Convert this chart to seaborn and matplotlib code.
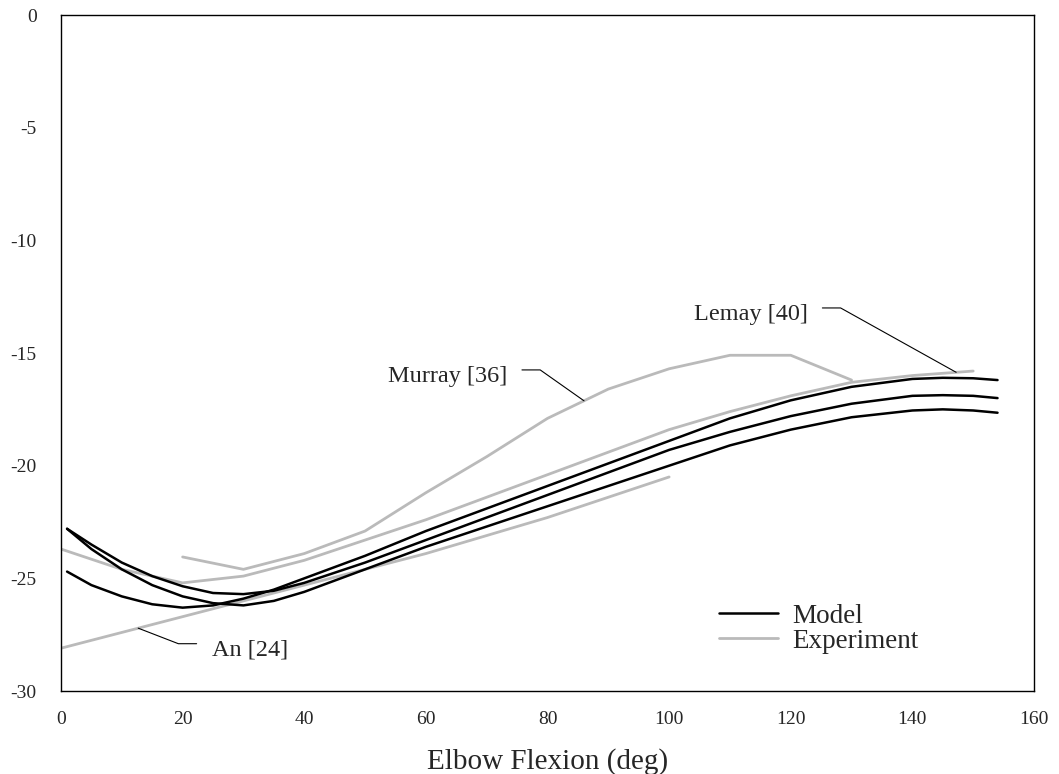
import numpy as np
import matplotlib
matplotlib.use("Agg")
import matplotlib.pyplot as plt
import seaborn as sns
from matplotlib.lines import Line2D

# model curves (three model variants)
model_x = [1, 5, 10, 15, 20, 25, 30, 35, 40, 50, 60, 70, 80, 90, 100,
           110, 120, 130, 140, 145, 150, 154]
model_a = [-24.7, -25.3, -25.8, -26.15, -26.3, -26.2, -25.9, -25.5, -25.0, -24.0,
           -22.9, -21.9, -20.9, -19.9, -18.9, -17.9, -17.1, -16.5, -16.15, -16.1,
           -16.12, -16.2]
model_b = [-22.8, -23.5, -24.3, -24.9, -25.35, -25.65, -25.7, -25.55, -25.2, -24.3,
           -23.3, -22.3, -21.3, -20.3, -19.3, -18.5, -17.8, -17.25, -16.9, -16.87,
           -16.9, -17.0]
model_c = [-22.8, -23.7, -24.6, -25.3, -25.8, -26.1, -26.2, -26.0, -25.6, -24.6,
           -23.6, -22.7, -21.8, -20.9, -20.0, -19.1, -18.4, -17.85, -17.55, -17.5,
           -17.55, -17.65]

# experimental curves
an_x = [0, 10, 20, 30, 40, 50, 60, 70, 80, 90, 100]
an_y = [-28.1, -27.4, -26.7, -26.0, -25.3, -24.6, -23.9, -23.1, -22.3, -21.4, -20.5]

murray_x = [20, 30, 40, 50, 60, 70, 80, 90, 100, 110, 120, 130]
murray_y = [-24.05, -24.6, -23.9, -22.9, -21.2, -19.6, -17.9, -16.6, -15.7, -15.1,
            -15.1, -16.2]

lemay_x = [0, 10, 20, 30, 40, 50, 60, 70, 80, 90, 100, 110, 120, 130, 140, 150]
lemay_y = [-23.7, -24.6, -25.2, -24.9, -24.2, -23.3, -22.4, -21.4, -20.4, -19.4,
           -18.4, -17.6, -16.9, -16.3, -16.0, -15.8]

x_ticks = [0, 20, 40, 60, 80, 100, 120, 140, 160]
y_ticks = [-30, -25, -20, -15, -10, -5, 0]

sns.set_style("white")
plt.rcParams["font.family"] = ["Liberation Serif", "DejaVu Serif"]
plt.rcParams["axes.unicode_minus"] = False

fig, ax = plt.subplots(figsize=(10.59, 7.74), dpi=100)
fig.subplots_adjust(left=0.0576, right=0.9764, top=0.9806, bottom=0.1072)

gray = "#bababa"
for xs, ys in [(an_x, an_y), (murray_x, murray_y), (lemay_x, lemay_y)]:
    sns.lineplot(x=xs, y=ys, ax=ax, color=gray, linewidth=2.0)
for ys in [model_a, model_b, model_c]:
    sns.lineplot(x=model_x, y=ys, ax=ax, color="black", linewidth=1.8)

# leader-line annotations: label, text x, text y, knee x, target x on series
notes = [
    ("Lemay [40]", 122.8, -13.3, 128.2, 147.2, lemay_x, lemay_y),
    ("Murray [36]", 73.4, -16.05, 78.8, 86.0, murray_x, murray_y),
    ("An [24]", 24.8, -28.2, 19.3, 12.7, an_x, an_y),
]
for label, tx, ty, kx, px, sx, sy in notes:
    py = np.interp(px, sx, sy)
    if kx > tx:
        ax.text(tx, ty, label, ha="right", va="center", fontsize=17.5)
        sx0 = tx + 2.4
    else:
        ax.text(tx, ty, label, ha="left", va="center", fontsize=17.5)
        sx0 = tx - 2.5
    ax.plot([sx0, kx, px], [ty + 0.3, ty + 0.3, py], color="black", linewidth=0.8)

handles = [Line2D([], [], color="black", linewidth=1.8),
           Line2D([], [], color=gray, linewidth=2.0)]
ax.legend(handles, ["Model", "Experiment"], loc="center left",
          bbox_to_anchor=(0.676, 0.092), frameon=False, fontsize=19.5,
          handlelength=2.2, handletextpad=0.5, labelspacing=0.0,
          borderpad=0, borderaxespad=0)

ax.set_xlim(0, 160)
ax.set_ylim(-30, 0)
ax.set_xticks(x_ticks)
ax.set_yticks(y_ticks)
ax.tick_params(axis="both", direction="inout", length=9, width=1,
               labelsize=14, color="black")
ax.tick_params(axis="y", pad=13)
ax.tick_params(axis="x", pad=10)
for s in ax.spines.values():
    s.set_color("black")
    s.set_linewidth(1.0)
ax.set_xlabel("Elbow Flexion (deg)", fontsize=21, labelpad=14)

fig.savefig("out.png", dpi=100)
